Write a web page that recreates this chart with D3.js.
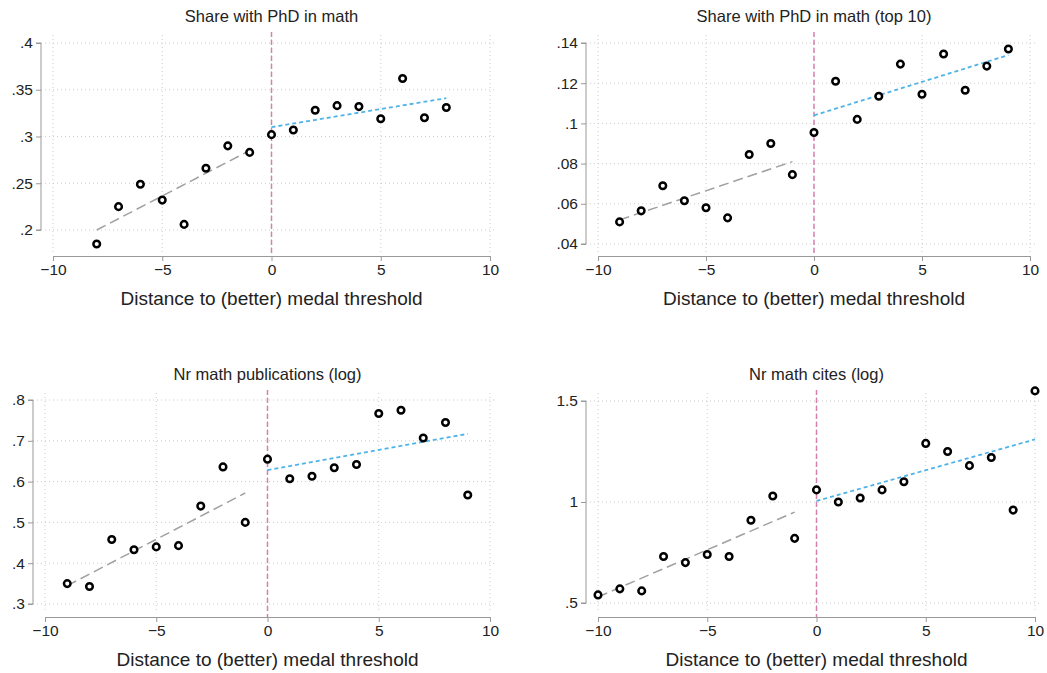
<!DOCTYPE html>
<html><head><meta charset="utf-8">
<script src="https://cdn.jsdelivr.net/npm/d3@7"></script>
<style>body{margin:0;background:#fff}text{font-family:"Liberation Sans",Arial,sans-serif;fill:#222}</style>
</head><body><svg id="c" width="1047" height="673"></svg>
<script>
const titles=["Share with PhD in math","Share with PhD in math (top 10)","Nr math publications (log)","Nr math cites (log)"];
const xTitle="Distance to (better) medal threshold";
const xTicks=[-10,-5,0,5,10];
const x1=d3.range(-8,9), y1=[.185,.225,.249,.232,.206,.266,.290,.283,.302,.307,.328,.333,.332,.319,.362,.320,.331];
const x2=d3.range(-9,10), y2=[.051,.0565,.069,.0615,.058,.053,.0845,.090,.0745,.0955,.121,.102,.1135,.1295,.1145,.1345,.1165,.1285,.137];
const x3=d3.range(-9,10), y3=[.35,.343,.458,.433,.44,.443,.54,.636,.50,.655,.607,.613,.634,.642,.767,.775,.707,.745,.567];
const x4=d3.range(-10,11), y4=[.54,.57,.56,.73,.70,.74,.73,.91,1.03,.82,1.06,1.00,1.02,1.06,1.10,1.29,1.25,1.18,1.22,.96,1.55];
const leftFits=[[[-8,.200],[-1,.285]],[[-9,.052],[-1,.081]],[[-9,.345],[-1,.572]],[[-10,.53],[-1,.95]]];
const rightFits=[[[0,.310],[8,.341]],[[0,.104],[9,.134]],[[0,.628],[9,.717]],[[0,1.005],[10,1.31]]];
const yTicks=[[.2,.25,.3,.35,.4],[.04,.06,.08,.1,.12,.14],[.3,.4,.5,.6,.7,.8],[.5,1,1.5]];
const yFmt=[d=>String(d).replace(/^0/,""),d=>String(d).replace(/^0/,""),d=>String(d).replace(/^0/,""),d=>String(d).replace(/^0\./,".")];
const xs=[x1,x2,x3,x4], ys=[y1,y2,y3,y4];
const layout=[
 {xp:[53,490],yd:[.2,.4],yp:[230,43],ax:41,top:32,base:256},
 {xp:[598,1030],yd:[.04,.14],yp:[244,43],ax:586,top:32,base:256},
 {xp:[45,490],yd:[.3,.8],yp:[604,400],ax:33,top:390,base:617},
 {xp:[598,1035],yd:[.5,1.5],yp:[603,401],ax:586,top:390,base:617}];
const svg=d3.select("#c");
layout.forEach((L,i)=>{
 const g=svg.append("g");
 const x=d3.scaleLinear().domain([-10,10]).range(L.xp);
 const y=d3.scaleLinear().domain(L.yd).range(L.yp);
 const right=L.xp[1]+7, bot=L.base-4;
 yTicks[i].forEach(t=>g.append("line").attr("x1",L.ax).attr("x2",right).attr("y1",y(t)).attr("y2",y(t)).attr("stroke","#ccc").attr("stroke-dasharray","1,3"));
 xTicks.forEach(t=>g.append("line").attr("x1",x(t)).attr("x2",x(t)).attr("y1",L.top+3).attr("y2",bot).attr("stroke","#ccc").attr("stroke-dasharray","1,3"));
 const ya=g.append("g").attr("transform",`translate(${L.ax},0)`).call(d3.axisLeft(y).tickValues(yTicks[i]).tickFormat(yFmt[i]).tickSize(5).tickPadding(3));
 const xa=g.append("g").attr("transform",`translate(0,${L.base})`).call(d3.axisBottom(x).tickValues(xTicks).tickFormat(d=>d<0?"\u2212"+(-d):d).tickSize(5).tickPadding(3));
 [ya,xa].forEach(a=>{a.attr("font-size",15.5).attr("font-family","Liberation Sans, Arial, sans-serif");a.selectAll("path,line").attr("stroke","#999");a.selectAll("text").attr("font-size",15.5).attr("fill","#222");});
 ya.select("path").attr("d",`M-5,${y(yTicks[i][0])}H0V${y(yTicks[i][yTicks[i].length-1])}H-5`);
 g.append("line").attr("x1",x(0)).attr("x2",x(0)).attr("y1",L.top).attr("y2",L.base).attr("stroke","#d77fae").attr("stroke-width",1.5).attr("stroke-dasharray","5,3");
 const ln=d3.line().x(d=>x(d[0])).y(d=>y(d[1]));
 g.append("path").attr("d",ln(leftFits[i])).attr("stroke","#a0a0a0").attr("stroke-width",1.5).attr("fill","none").attr("stroke-dasharray","10,5");
 g.append("path").attr("d",ln(rightFits[i])).attr("stroke","#4fb3e8").attr("stroke-width",1.8).attr("fill","none").attr("stroke-dasharray","4,3");
 g.selectAll("circle").data(xs[i]).join("circle").attr("cx",d=>x(d)).attr("cy",(d,j)=>y(ys[i][j])).attr("r",3.3).attr("fill","#fff").attr("stroke","#000").attr("stroke-width",2.5);
 const cx=(L.xp[0]+L.xp[1])/2;
 g.append("text").attr("x",cx).attr("y",L.top-10).attr("text-anchor","middle").style("font-size","16.5px").text(titles[i]);
 g.append("text").attr("x",cx).attr("y",L.base+49).attr("text-anchor","middle").style("font-size","19px").text(xTitle);
});
</script></body></html>
